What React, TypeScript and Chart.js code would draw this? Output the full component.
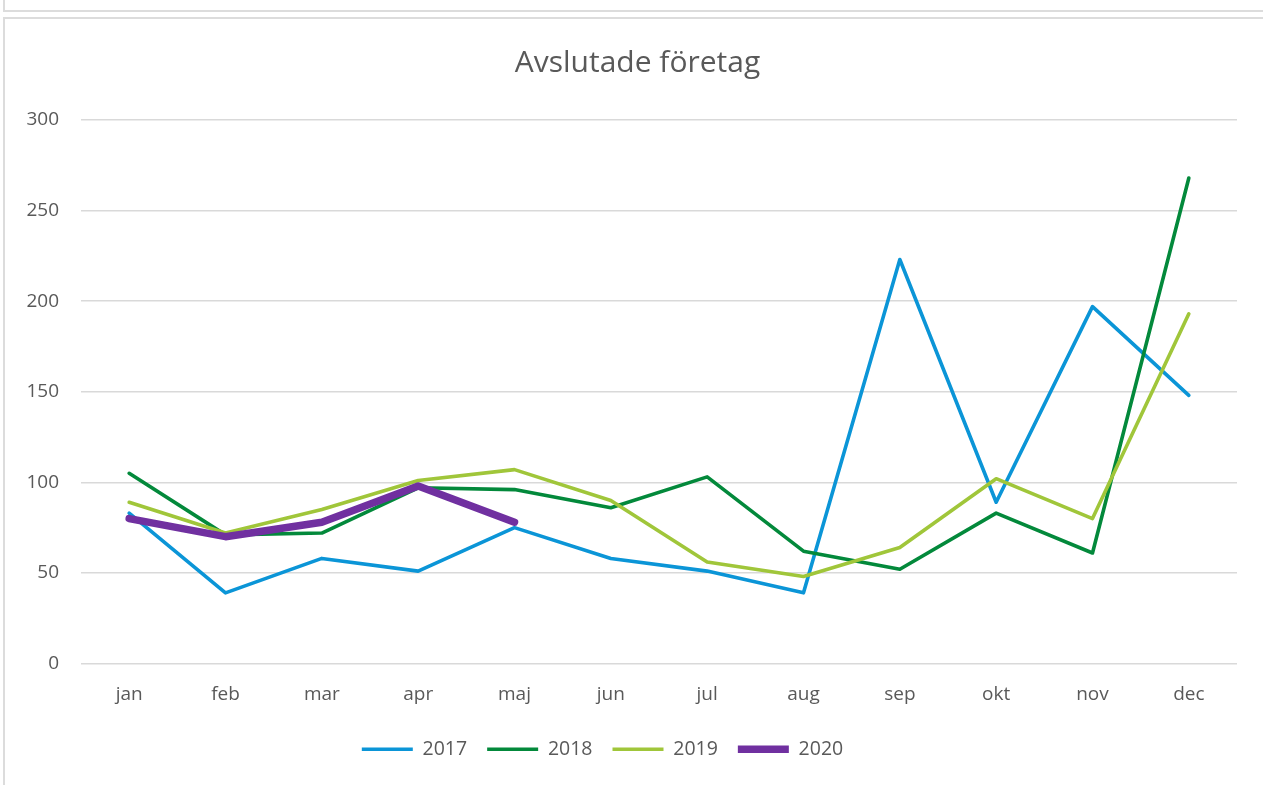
import React, { useEffect, useRef } from "react";
import { Chart, registerables } from "chart.js";

Chart.register(...registerables);

const months = ["jan", "feb", "mar", "apr", "maj", "jun", "jul", "aug", "sep", "okt", "nov", "dec"];
const series2017 = [83, 39, 58, 51, 75, 58, 51, 39, 223, 89, 197, 148];
const series2018 = [105, 71, 72, 97, 96, 86, 103, 62, 52, 83, 61, 268];
const series2019 = [89, 72, 85, 101, 107, 90, 56, 48, 64, 102, 80, 193];
const series2020 = [80, 70, 78, 98, 78];
const yTicks = [0, 50, 100, 150, 200, 250, 300];

const FONT = "'Open Sans', sans-serif";
const TEXT = "#595959";

const shiftPlugin = {
  id: "shiftBoxes",
  afterLayout(chart: any) {
    if (chart.legend) {
      chart.legend.left -= 16;
      chart.legend.right -= 16;
    }
    if (chart.titleBlock) {
      chart.titleBlock.left += 19;
      chart.titleBlock.right += 19;
    }
  },
};

export default function App() {
  const ref = useRef<HTMLCanvasElement | null>(null);
  useEffect(() => {
    if (!ref.current) return;
    const mk = (label: string, data: number[], color: string, width: number, order: number) => ({
      label,
      data,
      borderColor: color,
      backgroundColor: color,
      borderWidth: width,
      pointRadius: 0,
      pointHoverRadius: 0,
      tension: 0,
      borderJoinStyle: "round" as const,
      borderCapStyle: "round" as const,
      fill: false,
      order,
    });
    const chart = new Chart(ref.current, {
      type: "line",
      data: {
        labels: months,
        datasets: [
          mk("2017", series2017, "#0b95d7", 3.6, 4),
          mk("2018", series2018, "#03893b", 3.6, 3),
          mk("2019", series2019, "#a0c63a", 3.6, 2),
          mk("2020", series2020, "#7030a0", 7.5, 1),
        ],
      },
      plugins: [shiftPlugin],
      options: {
        animation: false,
        responsive: false,
        maintainAspectRatio: false,
        layout: { padding: { left: 0, right: 26, top: 0, bottom: 16 } },
        plugins: {
          tooltip: { enabled: false },
          title: {
            display: true,
            text: "Avslutade företag",
            color: TEXT,
            font: { family: FONT, size: 30, weight: "normal" },
            padding: { top: 45, bottom: 39 },
          },
          legend: {
            position: "bottom",
            labels: {
              usePointStyle: true,
              pointStyle: "line",
              pointStyleWidth: 51,
              color: TEXT,
              font: { family: FONT, size: 19.5 },
              padding: 20,
              sort: (a: any, b: any) => a.datasetIndex - b.datasetIndex,
            },
          },
        },
        scales: {
          x: {
            offset: true,
            grid: { display: false, drawTicks: false, offset: true },
            border: { display: false },
            ticks: { color: TEXT, font: { family: FONT, size: 19 }, padding: 20, maxRotation: 0 },
            afterFit: (s: any) => {
              s.height = 56;
            },
          },
          y: {
            min: 0,
            max: 300,
            afterBuildTicks: (s: any) => {
              s.ticks = yTicks.map((v) => ({ value: v }));
            },
            grid: { color: "#d9d9d9", lineWidth: 1.6, drawTicks: false },
            border: { display: false },
            ticks: { color: TEXT, font: { family: FONT, size: 19 }, padding: 22 },
            afterFit: (s: any) => {
              s.width = 81;
            },
          },
        },
      },
    });
    return () => chart.destroy();
  }, []);

  return (
    <div style={{ position: "absolute", left: 0, top: 0, width: 1263, height: 785, background: "#fff", overflow: "hidden" }}>
      <div style={{ position: "absolute", left: 3, top: 0, width: 2, height: 12, background: "#dcdcdc" }} />
      <div style={{ position: "absolute", left: 3, top: 10, width: 1260, height: 2, background: "#dcdcdc" }} />
      <div style={{ position: "absolute", left: 3, top: 17, width: 1260, height: 2, background: "#dcdcdc" }} />
      <div style={{ position: "absolute", left: 3, top: 17, width: 2, height: 768, background: "#dcdcdc" }} />
      <canvas ref={ref} width={1263} height={785} style={{ position: "absolute", left: 0, top: 0 }} />
    </div>
  );
}
